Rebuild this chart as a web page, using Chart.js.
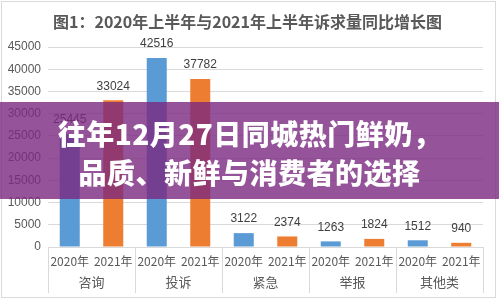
<!DOCTYPE html>
<html>
<head>
<meta charset="utf-8">
<script src="https://cdn.jsdelivr.net/npm/chart.js@4/dist/chart.umd.min.js"></script>
<style>
  html,body{margin:0;padding:0;background:#fff;}
  #wrap{position:relative;width:499px;height:301px;overflow:hidden;background:#fff;}
  #frame{position:absolute;left:1px;top:1px;width:495px;height:297px;border:1px solid #d9d9d9;box-sizing:border-box;pointer-events:none;}
  #title{position:absolute;left:0;top:10px;width:495px;text-align:center;font:bold 16px "Noto Sans CJK SC",sans-serif;color:#595959;line-height:22px;white-space:nowrap;}
  #banner{position:absolute;left:0;top:102px;width:499px;height:97px;background:rgba(122,40,128,0.8);}
  #banner div{position:absolute;left:0;width:499px;text-align:center;color:#fff;font:900 28px "Noto Sans CJK SC",sans-serif;letter-spacing:0.5px;white-space:nowrap;line-height:36px;}
  canvas{position:absolute;left:0;top:0;}
</style>
</head>
<body>
<div id="wrap">
  <canvas id="c" width="499" height="301"></canvas>
  <div id="frame"></div>
  <div id="title">图1：2020年上半年与2021年上半年诉求量同比增长图</div>
  <div id="banner">
    <div id="l1" style="top:13px;">往年12月27日同城热门鲜奶，</div>
    <div id="l2" style="top:52px;">品质、新鲜与消费者的选择</div>
  </div>
</div>
<script>
const categories = ["咨询","投诉","紧急","举报","其他类"];
const years = ["2020年","2021年"];
const values2020 = [25445, 42516, 3122, 1263, 1512];
const values2021 = [33024, 37782, 2374, 1824, 940];
const yTicks = [0,5000,10000,15000,20000,25000,30000,35000,40000,45000];

const labels = [];
const values = [];
const colors = [];
const yearColors = ["#5B9BD5","#ED7D31"];
categories.forEach((c,i)=>{
  labels.push(years[0]); values.push(values2020[i]); colors.push(yearColors[0]);
  labels.push(years[1]); values.push(values2021[i]); colors.push(yearColors[1]);
});

const valueLabels = {
  id:'valueLabels',
  afterDatasetsDraw(chart){
    const ctx = chart.ctx;
    const meta = chart.getDatasetMeta(0);
    ctx.save();
    ctx.font = '12px "Liberation Sans", sans-serif';
    ctx.fillStyle = '#404040';
    ctx.textAlign = 'center';
    ctx.textBaseline = 'middle';
    meta.data.forEach((el,i)=>{
      ctx.fillText(String(chart.data.datasets[0].data[i]), el.x, el.y - 14);
    });
    ctx.restore();
  }
};

const separators = {
  id:'separators',
  afterDraw(chart){
    const x = chart.scales.x, x2 = chart.scales.x2;
    const ctx = chart.ctx;
    ctx.save();
    ctx.strokeStyle = '#d9d9d9';
    ctx.lineWidth = 1;
    const n = categories.length;
    for(let i=0;i<=n;i++){
      let px;
      if(i===0) px = chart.chartArea.left;
      else if(i===n) px = chart.chartArea.right;
      else px = (x.getPixelForValue(2*i-1)+x.getPixelForValue(2*i))/2;
      px = Math.round(px)+0.5;
      ctx.beginPath();
      ctx.moveTo(px, x.top);
      ctx.lineTo(px, x2.bottom);
      ctx.stroke();
    }
    ctx.restore();
  }
};

new Chart(document.getElementById('c'),{
  type:'bar',
  data:{
    labels: labels,
    datasets:[{
      data: values,
      backgroundColor: colors,
      barPercentage: 0.46,
      categoryPercentage: 1.0
    }]
  },
  options:{
    responsive:false,
    animation:false,
    devicePixelRatio:1,
    layout:{padding:{left:0,right:16,top:47,bottom:8}},
    plugins:{legend:{display:false},tooltip:{enabled:false}},
    scales:{
      y:{
        min:0,max:45000,
        afterFit(s){s.width=48;},
        afterBuildTicks(s){s.ticks = yTicks.map(v=>({value:v}));},
        ticks:{color:'#595959',font:{family:'"Liberation Sans", sans-serif',size:12},padding:7,callback:(v)=>String(v)},
        grid:{color:'#d9d9d9',drawTicks:false},
        border:{display:false}
      },
      x:{
        position:'bottom',
        afterFit(s){s.height=20;},
        ticks:{color:'#595959',font:{family:'"Noto Sans CJK SC", sans-serif',size:12},padding:7,maxRotation:0,autoSkip:false},
        grid:{display:false,drawTicks:false},
        border:{display:true,color:'#d9d9d9'}
      },
      x2:{
        type:'category',
        position:'bottom',
        labels: categories,
        offset:true,
        afterFit(s){s.height=26;},
        ticks:{color:'#595959',font:{family:'"Noto Sans CJK SC", sans-serif',size:13},padding:7,maxRotation:0,autoSkip:false},
        grid:{display:false,drawTicks:false},
        border:{display:false}
      }
    }
  },
  plugins:[valueLabels,separators]
});
</script>
</body>
</html>
